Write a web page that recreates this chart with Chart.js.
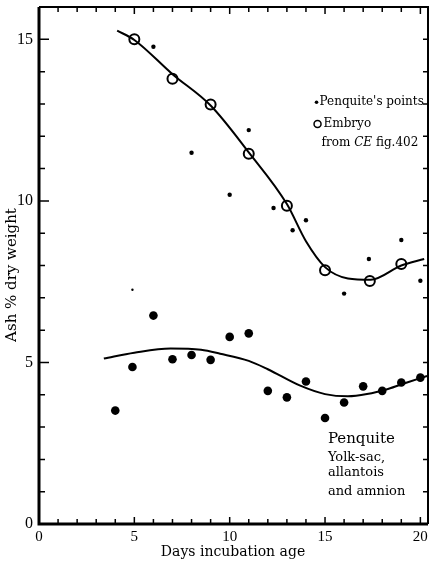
<!DOCTYPE html>
<html>
	<head>
		<meta charset="utf-8">
		<title>Ash % dry weight</title>
		<script type="text/javascript" src="https://cdn.jsdelivr.net/npm/chart.js@4.4.0/dist/chart.umd.min.js"></script>
		<style type="text/css">
			body{
				margin: 0;
				background: #ffffff;
			}
			#grafico{
				width: 436px;
				height: 563px;
			}
		</style>
	</head>
	<body>
		<div id="grafico">
			<canvas id="ceniza" width="436" height="563"></canvas>
		</div>

<script type="text/javascript">
	// embryo, from CE fig. 402 (open circles)
	var embryoDays = [5, 7, 9, 11, 13, 15, 17.35, 19];
	var embryoAsh = [15.0, 13.78, 12.98, 11.46, 9.85, 7.85, 7.52, 8.05];

	// Penquite's points (small dots)
	var penquiteDays = [6, 8, 10, 11, 12.3, 13.3, 14, 16, 17.3, 19, 20, 4.9];
	var penquiteAsh = [14.77, 11.49, 10.19, 12.19, 9.78, 9.09, 9.4, 7.13, 8.2, 8.79, 7.53, 7.25];

	// Penquite yolk-sac, allantois and amnion (large dots)
	var yolkDays = [4, 4.9, 6, 7, 8, 9, 10, 11, 12, 13, 14, 15, 16, 17, 18, 19, 20];
	var yolkAsh = [3.51, 4.86, 6.45, 5.1, 5.23, 5.08, 5.79, 5.9, 4.12, 3.92, 4.41, 3.28, 3.76, 4.26, 4.12, 4.38, 4.53];

	// freehand curves
	var embryoCurveDays = [4.1, 5, 7, 9, 11, 13, 14, 15, 16.2, 17.4, 19, 20.2];
	var embryoCurveAsh = [15.27, 14.98, 13.92, 12.95, 11.5, 9.9, 8.75, 7.95, 7.6, 7.56, 8.0, 8.2];
	var yolkCurveDays = [3.4, 5, 6.9, 8.5, 9.5, 11, 12, 13.7, 15, 16.2, 17.2, 18.3, 19.3, 20.35];
	var yolkCurveAsh = [5.12, 5.3, 5.43, 5.39, 5.27, 5.05, 4.79, 4.28, 4.02, 3.95, 4.02, 4.18, 4.38, 4.58];

	var xTickLabels = [0, 5, 10, 15, 20];
	var yTickLabels = [0, 5, 10, 15];

	function puntos(xs, ys){
		var salida = [];
		for(var i = 0; i < xs.length; i++){
			salida.push({x: xs[i], y: ys[i]});
		}
		return salida;
	}

	// one tick every day / every unit
	function enteros(desde, hasta){
		var t = [];
		for(var v = desde; v <= hasta; v++){
			t.push({value: v});
		}
		return t;
	}

	var fuente = "'Liberation Serif', serif";
	var fuente2 = "'DejaVu Serif', serif";

	var marco = {
		id: 'marco',
		afterDraw: function(chart){
			var ctx = chart.ctx;
			var a = chart.chartArea;
			var sx = chart.scales.x;
			var sy = chart.scales.y;
			ctx.save();
			ctx.strokeStyle = '#000';
			// frame
			ctx.lineWidth = 2;
			ctx.beginPath();
			ctx.moveTo(a.left, a.top);
			ctx.lineTo(a.right, a.top);
			ctx.lineTo(a.right, a.bottom);
			ctx.stroke();
			ctx.lineWidth = 3;
			ctx.beginPath();
			ctx.moveTo(a.left, a.top);
			ctx.lineTo(a.left, a.bottom);
			ctx.lineTo(a.right, a.bottom);
			ctx.stroke();
			// inward ticks
			ctx.lineWidth = 1.5;
			sx.ticks.forEach(function(t){
				var px = sx.getPixelForValue(t.value);
				var largo = xTickLabels.indexOf(t.value) >= 0 ? 7 : 5;
				ctx.beginPath();
				ctx.moveTo(px, a.bottom);
				ctx.lineTo(px, a.bottom - largo);
				ctx.moveTo(px, a.top);
				ctx.lineTo(px, a.top + largo);
				ctx.stroke();
			});
			sy.ticks.forEach(function(t){
				var py = sy.getPixelForValue(t.value);
				var largo = yTickLabels.indexOf(t.value) >= 0 ? 10 : 6;
				ctx.beginPath();
				ctx.moveTo(a.left, py);
				ctx.lineTo(a.left + largo, py);
				ctx.moveTo(a.right, py);
				ctx.lineTo(a.right - 5, py);
				ctx.stroke();
			});
			// axis titles
			ctx.fillStyle = '#000';
			ctx.textAlign = 'center';
			ctx.textBaseline = 'middle';
			ctx.font = '14px ' + fuente2;
			ctx.fillText('Days incubation age', 233, 552);
			ctx.save();
			ctx.translate(12, 275);
			ctx.rotate(-Math.PI / 2);
			ctx.font = '15px ' + fuente2;
			ctx.fillText('Ash % dry weight', 0, 0);
			ctx.restore();

			// key, placed in data units
			ctx.textAlign = 'left';
			ctx.font = '12px ' + fuente2;
			var kx = sx.getPixelForValue(14.45);
			var ky = sy.getPixelForValue(13.05);
			ctx.beginPath();
			ctx.arc(kx + 2, ky, 1.8, 0, Math.PI * 2);
			ctx.fill();
			ctx.fillText("Penquite's points", kx + 5, ky);
			ky = sy.getPixelForValue(12.38);
			ctx.lineWidth = 1.5;
			ctx.beginPath();
			ctx.arc(kx + 3, ky, 3.5, 0, Math.PI * 2);
			ctx.stroke();
			ctx.fillText('Embryo', kx + 9, ky);
			ky = sy.getPixelForValue(11.8);
			ctx.fillText('from ', kx + 7, ky);
			var w = ctx.measureText('from ').width;
			ctx.font = 'italic 12px ' + fuente2;
			ctx.fillText('CE', kx + 7 + w, ky);
			w += ctx.measureText('CE ').width;
			ctx.font = '12px ' + fuente2;
			ctx.fillText('fig.402', kx + 7 + w, ky);

			var lx = sx.getPixelForValue(15.15);
			ctx.font = '15px ' + fuente2;
			ctx.fillText('Penquite', lx, sy.getPixelForValue(2.64));
			ctx.font = '13px ' + fuente2;
			ctx.fillText('Yolk-sac,', lx, sy.getPixelForValue(2.05));
			ctx.fillText('allantois', lx, sy.getPixelForValue(1.58));
			ctx.fillText('and amnion', lx, sy.getPixelForValue(1.0));
			ctx.restore();
		}
	};

	var graphTarget = document.getElementById('ceniza');
	var grafico = new Chart(graphTarget, {
		type: 'scatter',
		data: {
			datasets: [
				{
					label: 'Embryo curve',
					type: 'line',
					data: puntos(embryoCurveDays, embryoCurveAsh),
					borderColor: '#000',
					borderWidth: 2,
					pointRadius: 0,
					fill: false,
					cubicInterpolationMode: 'monotone'
				},
				{
					label: 'Yolk curve',
					type: 'line',
					data: puntos(yolkCurveDays, yolkCurveAsh),
					borderColor: '#000',
					borderWidth: 2,
					pointRadius: 0,
					fill: false,
					cubicInterpolationMode: 'monotone'
				},
				{
					label: 'Embryo from CE fig.402',
					data: puntos(embryoDays, embryoAsh),
					pointStyle: 'circle',
					pointRadius: 5,
					borderWidth: 2,
					borderColor: '#000',
					backgroundColor: '#fff'
				},
				{
					label: "Penquite's points",
					data: puntos(penquiteDays, penquiteAsh),
					pointRadius: function(c){ return c.dataIndex == penquiteDays.length - 1 ? 1.2 : 2.2; },
					borderWidth: 0,
					backgroundColor: '#000'
				},
				{
					label: 'Penquite yolk-sac, allantois and amnion',
					data: puntos(yolkDays, yolkAsh),
					pointRadius: 4.3,
					borderWidth: 0,
					backgroundColor: '#000'
				}
			]
		},
		options: {
			responsive: false,
			animation: false,
			layout: {
				padding: {left: 0, top: 5, right: 8, bottom: 0}
			},
			plugins: {
				legend: {display: false},
				tooltip: {enabled: false}
			},
			scales: {
				x: {
					type: 'linear',
					min: 0,
					max: 20.4,
					grid: {display: false, drawTicks: false, tickLength: 0},
					border: {display: false},
					ticks: {
						autoSkip: false,
						maxRotation: 0,
						padding: 4,
						color: '#000',
						font: {family: fuente, size: 15},
						callback: function(v){ return xTickLabels.indexOf(v) >= 0 ? String(v) : ''; }
					},
					afterBuildTicks: function(scale){ scale.ticks = enteros(0, 20); },
					afterFit: function(scale){
						scale.height = 39;
						scale.paddingLeft = 0;
						scale.paddingRight = 0;
					}
				},
				y: {
					type: 'linear',
					min: 0,
					max: 16,
					grid: {display: false, drawTicks: false, tickLength: 0},
					border: {display: false},
					ticks: {
						autoSkip: false,
						padding: 6,
						color: '#000',
						font: {family: fuente, size: 16},
						callback: function(v){ return yTickLabels.indexOf(v) >= 0 ? String(v) : ''; }
					},
					afterBuildTicks: function(scale){ scale.ticks = enteros(0, 16); },
					afterFit: function(scale){
						scale.width = 39;
						scale.paddingTop = 0;
						scale.paddingBottom = 0;
					}
				}
			}
		},
		plugins: [marco]
	});
</script>

</body>
</html>
